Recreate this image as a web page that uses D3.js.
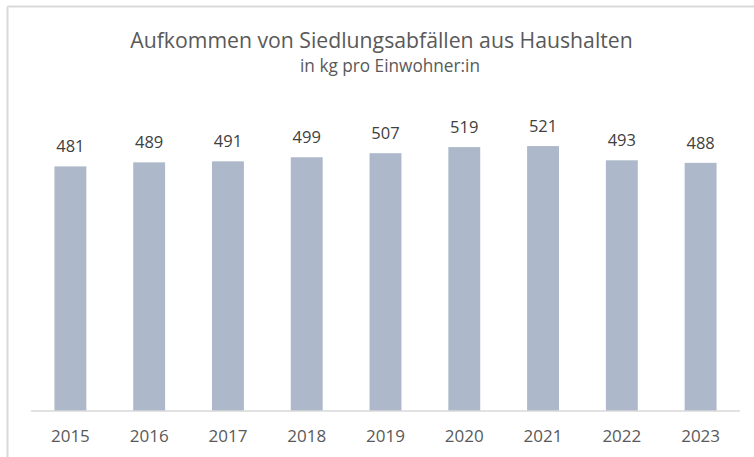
<!DOCTYPE html>
<html><head><meta charset="utf-8">
<script src="https://cdn.jsdelivr.net/npm/d3@7"></script>
<style>
html,body{margin:0;padding:0;background:#fff;}
svg{display:block;font-family:"Open Sans",sans-serif;}
</style></head>
<body>
<svg id="chart" width="754" height="457"></svg>
<script>
const years = ["2015","2016","2017","2018","2019","2020","2021","2022","2023"];
const values = [481,489,491,499,507,519,521,493,488];
const titleText = "Aufkommen von Siedlungsabfällen aus Haushalten";
const subtitleText = "in kg pro Einwohner:in";

const svg = d3.select("#chart");
const W = 754, H = 457;

// frame (top and left edges visible)
svg.append("line").attr("x1",7.5).attr("x2",W).attr("y1",6.5).attr("y2",6.5)
  .attr("stroke","#d9d9d9").attr("stroke-width",2);
svg.append("line").attr("x1",7.5).attr("x2",7.5).attr("y1",6.5).attr("y2",H)
  .attr("stroke","#d9d9d9").attr("stroke-width",2);

const x = d3.scaleBand().domain(years).range([31,740]).paddingInner(0.595).paddingOuter(0.2975);
const y = d3.scaleLinear().domain([0,600]).range([411,105.9]);

function fit(sel, target){
  const base = parseFloat(sel.attr("font-size"));
  const w = sel.node().getComputedTextLength();
  sel.attr("font-size", base*target/w);
}

const t = svg.append("text").attr("x",381.5).attr("y",47.7).attr("text-anchor","middle")
  .attr("font-size",21).attr("fill","#595959").text(titleText);
fit(t,503);
const st = svg.append("text").attr("x",390).attr("y",71.7).attr("text-anchor","middle")
  .attr("font-size",16).attr("fill","#595959").text(subtitleText);
fit(st,180);

svg.append("g").selectAll("rect").data(values).join("rect")
  .attr("x",(d,i)=>x(years[i])).attr("width",x.bandwidth())
  .attr("y",d=>y(d)).attr("height",d=>y(0)-y(d))
  .attr("fill","#adb9ca");

svg.append("g").selectAll("text").data(values).join("text")
  .attr("x",(d,i)=>x(years[i])+x.bandwidth()/2).attr("y",d=>y(d)-14)
  .attr("text-anchor","middle").attr("font-size",16.5).attr("fill","#404040")
  .text(d=>d);

const axis = d3.axisBottom(x).tickSize(0).tickPadding(0);
const g = svg.append("g").attr("transform","translate(0,411)").call(axis);
g.select(".domain").attr("stroke","#d9d9d9").attr("stroke-width",1.5).attr("d","M31,0H740");
g.selectAll(".tick text").attr("font-family","Open Sans, sans-serif").attr("font-size",17)
  .attr("fill","#595959").attr("dy",null).attr("y",31);
</script>
</body></html>
